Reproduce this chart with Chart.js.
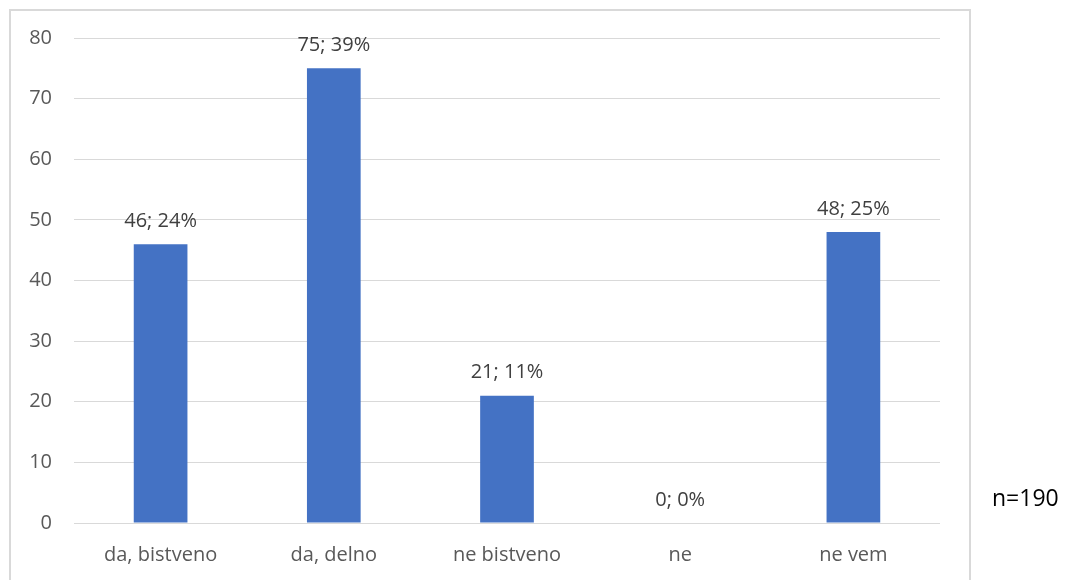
<!DOCTYPE html>
<html>
<head>
<meta charset="utf-8">
<script src="https://cdn.jsdelivr.net/npm/chart.js@4"></script>
<style>
  html, body { margin: 0; padding: 0; background: #fff; }
  #wrap { position: relative; width: 1073px; height: 580px; }
  #n-note {
    position: absolute; left: 992px; top: 481px;
    font-family: 'Open Sans', sans-serif; font-size: 23px; color: #000;
  }
</style>
</head>
<body>
<div id="wrap">
  <canvas id="chart" width="1073" height="580"></canvas>
  <div id="n-note">n=190</div>
</div>
<script>
(function() {
  'use strict';

  var CATEGORIES = ['da, bistveno', 'da, delno', 'ne bistveno', 'ne', 'ne vem'];
  var COUNTS     = [46, 75, 21, 0, 48];
  var PERCENTS   = [24, 39, 11, 0, 25];
  var Y_TICKS    = [0, 10, 20, 30, 40, 50, 60, 70, 80];

  var BLUE       = '#4472c4';
  var TEXT_COLOR = '#595959';
  var GRID_COLOR = '#d9d9d9';
  var FONT       = "'Open Sans', sans-serif";

  // frame round the plot, open at the bottom edge
  var frame = {
    id: 'frame',
    beforeDraw: function(chart) {
      var c = chart.ctx;
      c.save();
      c.strokeStyle = GRID_COLOR;
      c.lineWidth = 2;
      c.beginPath();
      c.moveTo(10, 582);
      c.lineTo(10, 10);
      c.lineTo(970, 10);
      c.lineTo(970, 582);
      c.stroke();
      c.restore();
    }
  };

  // "count; percent" above every bar
  var valueLabels = {
    id: 'valueLabels',
    afterDatasetsDraw: function(chart) {
      var c = chart.ctx;
      var meta = chart.getDatasetMeta(0);
      c.save();
      c.font = '20px ' + FONT;
      c.fillStyle = '#404040';
      c.textAlign = 'center';
      c.textBaseline = 'middle';
      meta.data.forEach(function(bar, i) {
        c.fillText(COUNTS[i] + '; ' + PERCENTS[i] + '%', bar.x, bar.y - 23);
      });
      c.restore();
    }
  };

  new Chart(document.getElementById('chart'), {
    type: 'bar',
    data: {
      labels: CATEGORIES,
      datasets: [{
        data: COUNTS,
        backgroundColor: BLUE,
        borderWidth: 0,
        categoryPercentage: 1,
        barPercentage: 0.31
      }]
    },
    options: {
      responsive: false,
      animation: false,
      layout: { padding: { top: 38, right: 133, left: 0, bottom: 0 } },
      plugins: {
        legend: { display: false },
        tooltip: { enabled: false }
      },
      scales: {
        x: {
          grid: { display: false },
          border: { display: false },
          ticks: { color: TEXT_COLOR, font: { family: FONT, size: 20 }, padding: 12 },
          afterFit: function(scale) { scale.height = 57; }
        },
        y: {
          min: 0,
          max: 80,
          afterBuildTicks: function(scale) {
            scale.ticks = Y_TICKS.map(function(v) { return { value: v }; });
          },
          grid: { color: GRID_COLOR, drawTicks: false },
          border: { display: false },
          ticks: { color: TEXT_COLOR, font: { family: FONT, size: 20 }, padding: 22 },
          afterFit: function(scale) { scale.width = 74; }
        }
      }
    },
    plugins: [frame, valueLabels]
  });
})();
</script>
</body>
</html>
